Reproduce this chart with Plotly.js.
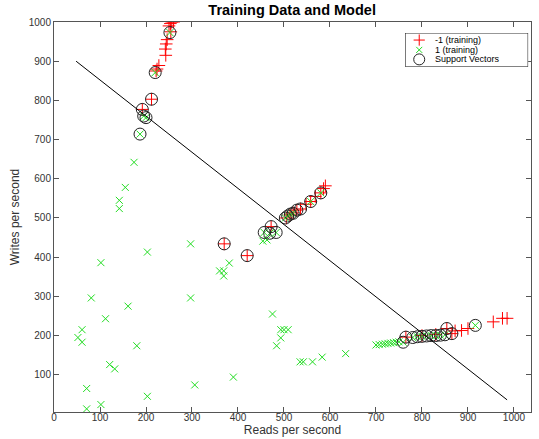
<!DOCTYPE html>
<html>
<head>
<meta charset="utf-8">
<script src="https://cdn.plot.ly/plotly-3.0.1.min.js"></script>
<style>html,body{margin:0;padding:0;background:#fff;}#chart{width:539px;height:439px;}</style>
</head>
<body>
<div id="chart"></div>
<script>
// Class -1 (training)
const negX = [250,256,260,253, 246,244,242,243, 228,224,222,254, 212,192,
              370,420,472, 505,513,520,528,536,548,558,568,580,586,590,
              765,800,830,854,865,872,886,900,955,975,985];
const negY = [990,1000,1000,996, 955,944,931,915, 889,880,875,975, 803,777,
              434,404,478, 500,508,513,520,523,535,542,555,564,575,582,
              196,200,203,218,205,212,213,218,235,244,244];
// Class 1 (training)
const posX = [102,203,81,161,112,61,52,61,180,121,132,71,203,102,71,
              174,155,142,142,187,195,200,220,252,
              297,381,360,369,369,297,475,493,500,509,493,484,390,306,454,463,
              457,469,483,503,508,514,520,558,580,
              535,542,562,583,634,
              700,707,714,720,726,732,738,744,750,
              759,780,790,800,810,820,830,840,850,916];
const posY = [386,413,296,275,243,215,195,183,174,126,115,65,45,24,13,
              642,578,545,524,714,760,756,871,973,
              434,385,365,365,352,296,255,215,215,215,194,174,94,74,441,444,
              463,461,463,500,505,510,512,542,564,
              133,133,133,145,154,
              176,177,178,179,180,181,182,183,184,
              183,195,197,198,199,200,200,201,202,226];
// Support vectors
const svX = [252,220,212,192,195,200,187,
             370,420,457,469,483,472,503,508,514,520,528,536,558,580,
             765,759,780,790,800,810,820,830,840,850,854,865,916];
const svY = [973,871,803,777,760,756,714,
             434,404,463,461,463,478,500,505,510,512,520,523,542,564,
             196,183,195,197,198,199,200,200,201,202,218,205,226];
// Decision boundary (model)
const modelX = [48, 985];
const modelY = [900, 36];

// Legend labels
const legendLabels = ['-1 (training)', '1 (training)', 'Support Vectors'];

const negMarker = {symbol: 'cross-thin-open', size: 9, color: '#ff0000', line: {color: '#ff0000', width: 1}};
const posMarker = {symbol: 'x-thin-open', size: 7, color: '#22dd22', line: {color: '#22dd22', width: 1}};
const svMarker  = {symbol: 'circle-open', size: 12, color: '#222', line: {color: '#222', width: 1}};

// legend row positions inside the legend box (fractions of the box)
const rowY = [0.79, 0.50, 0.22];
const keyX = 0.115, textX = 0.225;

const traces = [
  {x: negX, y: negY, mode: 'markers', type: 'scatter', name: legendLabels[0], marker: negMarker},
  {x: posX, y: posY, mode: 'markers', type: 'scatter', name: legendLabels[1], marker: posMarker},
  {x: svX, y: svY, mode: 'markers', type: 'scatter', name: legendLabels[2], marker: svMarker},
  {x: modelX, y: modelY, mode: 'lines', type: 'scatter', name: 'Model', line: {color: '#000', width: 1}},
  // legend keys
  {x: [keyX], y: [rowY[0]], xaxis: 'x2', yaxis: 'y2', mode: 'markers', type: 'scatter', marker: Object.assign({}, negMarker, {size: 8}), cliponaxis: false},
  {x: [keyX], y: [rowY[1]], xaxis: 'x2', yaxis: 'y2', mode: 'markers', type: 'scatter', marker: Object.assign({}, posMarker, {size: 6}), cliponaxis: false},
  {x: [keyX], y: [rowY[2]], xaxis: 'x2', yaxis: 'y2', mode: 'markers', type: 'scatter', marker: Object.assign({}, svMarker, {size: 11}), cliponaxis: false}
];

const axisCommon = {
  showline: true, linecolor: '#555', linewidth: 1, mirror: 'ticks',
  ticks: 'inside', ticklen: 5, tickcolor: '#555', showgrid: false, zeroline: false,
  tickfont: {family: 'Liberation Sans, Arial, sans-serif', size: 10, color: '#333'}
};

const legendAnnotations = legendLabels.map((t, i) => ({
  xref: 'x2', yref: 'y2', x: textX, y: rowY[i], xanchor: 'left', yanchor: 'middle',
  text: t, showarrow: false, font: {size: 9, color: '#000', family: 'Liberation Sans, Arial, sans-serif'}
}));

const layout = {
  width: 539, height: 439,
  margin: {l: 54, r: 8, t: 22, b: 27},
  paper_bgcolor: '#fff', plot_bgcolor: '#fff',
  font: {family: 'Liberation Sans, Arial, sans-serif', color: '#000'},
  showlegend: false,
  title: {text: '<b>Training Data and Model</b>', x: 0.542, xanchor: 'center', y: 0.977, yanchor: 'middle',
          font: {size: 14.5, color: '#000'}},
  xaxis: Object.assign({}, axisCommon, {range: [0, 1037], tickmode: 'linear', tick0: 0, dtick: 100,
          ticklabelstandoff: -4,
          title: {text: 'Reads per second', standoff: 0, font: {size: 12, color: '#333'}}}),
  yaxis: Object.assign({}, axisCommon, {range: [5, 1000], tickmode: 'array',
          tickvals: [100,200,300,400,500,600,700,800,900,1000],
          title: {text: 'Writes per second', standoff: 6, font: {size: 12, color: '#333'}}}),
  xaxis2: {domain: [0.736, 0.994], range: [0, 1], visible: false, fixedrange: true, anchor: 'y2'},
  yaxis2: {domain: [0.885, 0.972], range: [0, 1], visible: false, fixedrange: true, anchor: 'x2'},
  shapes: [{type: 'rect', xref: 'x2', yref: 'y2', x0: 0, x1: 1, y0: 0, y1: 1,
            line: {color: '#000', width: 1}, fillcolor: '#fff', layer: 'below'}],
  annotations: legendAnnotations
};

Plotly.newPlot('chart', traces, layout, {displayModeBar: false, staticPlot: true});
</script>
</body>
</html>
